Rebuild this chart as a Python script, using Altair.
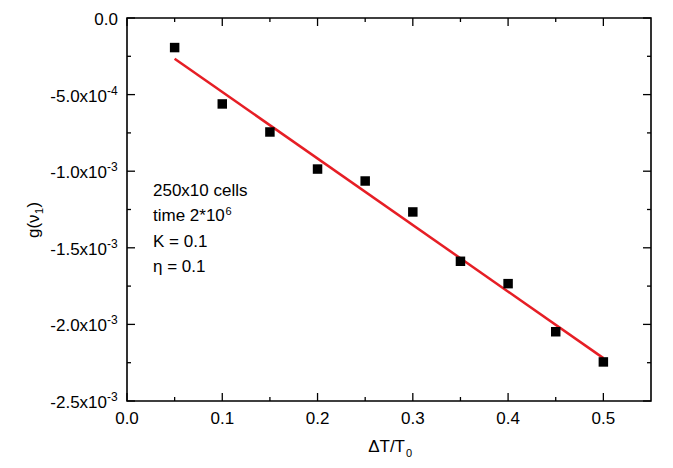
import altair as alt
import pandas as pd

# ---- data ----
dT = [0.05, 0.10, 0.15, 0.20, 0.25, 0.30, 0.35, 0.40, 0.45, 0.50]
g = [-1.93e-4, -5.61e-4, -7.44e-4, -9.86e-4, -1.064e-3, -1.266e-3,
     -1.588e-3, -1.734e-3, -2.048e-3, -2.245e-3]

x_major = [0.0, 0.1, 0.2, 0.3, 0.4, 0.5]
x_minor = [0.05, 0.15, 0.25, 0.35, 0.45]
x_labels = ["0.0", "0.1", "0.2", "0.3", "0.4", "0.5"]
y_major = [0.0, -0.0005, -0.001, -0.0015, -0.002, -0.0025]
y_minor = [-0.00025, -0.00075, -0.00125, -0.00175, -0.00225]
y_mantissa = ["0.0", "-5.0x10", "-1.0x10", "-1.5x10", "-2.0x10", "-2.5x10"]
y_exponent = ["", "-4", "-3", "-3", "-3", "-3"]

notes = ["250x10 cells", "time 2*10", "K = 0.1", "η = 0.1"]
note_sup = ["6"]
x_title = ["ΔT/T"]
x_title_sub = ["0"]
y_title = ["g(ν"]
y_title_sub = ["1"]
y_title_end = [")"]

# ---- layout / style ----
W, H = 524, 383
FONT = "Liberation Sans"
FS = 17
MAJ, MIN = 8, 4
TW = 1.3

xs = alt.Scale(domain=[0, 0.55], nice=False, zero=False)
ys = alt.Scale(domain=[-0.0025, 0], nice=False, zero=False)


def X(f):
    return alt.X(f, type="quantitative", scale=xs, axis=None)


def Y(f):
    return alt.Y(f, type="quantitative", scale=ys, axis=None)


pts = pd.DataFrame({"dT": dT, "g": g})
xmaj = pd.DataFrame({"v": x_major, "lab": x_labels})
xmin = pd.DataFrame({"v": x_minor})
ymaj = pd.DataFrame({"v": y_major, "man": y_mantissa, "exp": y_exponent})
ymin = pd.DataFrame({"v": y_minor})

layers = []

# tick marks (inward, all four sides)
for df, L in [(xmaj, MAJ), (xmin, MIN)]:
    layers.append(alt.Chart(df).mark_rule(color="black", strokeWidth=TW)
                  .encode(x=X("v"), y=alt.value(H), y2=alt.value(H - L)))
    layers.append(alt.Chart(df).mark_rule(color="black", strokeWidth=TW)
                  .encode(x=X("v"), y=alt.value(0), y2=alt.value(L)))
for df, L in [(ymaj, MAJ), (ymin, MIN)]:
    layers.append(alt.Chart(df).mark_rule(color="black", strokeWidth=TW)
                  .encode(y=Y("v"), x=alt.value(0), x2=alt.value(L)))
    layers.append(alt.Chart(df).mark_rule(color="black", strokeWidth=TW)
                  .encode(y=Y("v"), x=alt.value(W), x2=alt.value(W - L)))

# x tick labels
layers.append(alt.Chart(xmaj).mark_text(font=FONT, fontSize=FS, align="center",
                                        baseline="alphabetic", color="black")
              .encode(x=X("v"), y=alt.value(H + 23), text="lab:N"))

# y tick labels (mantissa + superscript exponent)
layers.append(alt.Chart(ymaj).transform_filter("datum.exp != ''")
              .mark_text(font=FONT, fontSize=FS, align="right", baseline="alphabetic",
                         dy=7, color="black")
              .encode(y=Y("v"), x=alt.value(-20), text="man:N"))
layers.append(alt.Chart(ymaj).transform_filter("datum.exp != ''")
              .mark_text(font=FONT, fontSize=12, align="left", baseline="alphabetic",
                         dy=0, color="black")
              .encode(y=Y("v"), x=alt.value(-20), text="exp:N"))
layers.append(alt.Chart(ymaj).transform_filter("datum.exp == ''")
              .mark_text(font=FONT, fontSize=FS, align="right", baseline="alphabetic",
                         dy=7, color="black")
              .encode(y=Y("v"), x=alt.value(-9), text="man:N"))

# fit line
layers.append(alt.Chart(pts).transform_regression("dT", "g", extent=[0.05, 0.5])
              .mark_line(color="#e61e25", strokeWidth=2.5)
              .encode(x=X("dT"), y=Y("g")))

# data points
layers.append(alt.Chart(pts).mark_point(shape="square", size=90, filled=True,
                                        color="black", opacity=1)
              .encode(x=X("dT"), y=Y("g")))

# annotation
layers.append(alt.Chart(pd.DataFrame({"t": [0]})).mark_text(
    text=notes, font=FONT, fontSize=FS, align="left", baseline="alphabetic",
    lineHeight=25.3, color="black").encode(x=alt.value(26), y=alt.value(178)))
layers.append(alt.Chart(pd.DataFrame({"t": note_sup})).mark_text(
    font=FONT, fontSize=11, align="left", baseline="alphabetic", color="black")
    .encode(text="t:N", x=alt.value(98.5), y=alt.value(196.5)))

# x title
layers.append(alt.Chart(pd.DataFrame({"t": x_title})).mark_text(
    font=FONT, fontSize=FS, align="right", baseline="alphabetic", color="black")
    .encode(text="t:N", x=alt.value(W / 2 + 16), y=alt.value(H + 51)))
layers.append(alt.Chart(pd.DataFrame({"t": x_title_sub})).mark_text(
    font=FONT, fontSize=11, align="left", baseline="alphabetic", color="black")
    .encode(text="t:N", x=alt.value(W / 2 + 17), y=alt.value(H + 55.5)))

# y title (rotated, reads bottom to top)
layers.append(alt.Chart(pd.DataFrame({"t": y_title})).mark_text(
    font=FONT, fontSize=FS, align="left", baseline="alphabetic", angle=270,
    color="black").encode(text="t:N", x=alt.value(-88), y=alt.value(220)))
layers.append(alt.Chart(pd.DataFrame({"t": y_title_sub})).mark_text(
    font=FONT, fontSize=11, align="left", baseline="alphabetic", angle=270,
    color="black").encode(text="t:N", x=alt.value(-84), y=alt.value(196)))
layers.append(alt.Chart(pd.DataFrame({"t": y_title_end})).mark_text(
    font=FONT, fontSize=FS, align="left", baseline="alphabetic", angle=270,
    color="black").encode(text="t:N", x=alt.value(-88), y=alt.value(189.5)))

chart = (alt.layer(*layers)
         .properties(width=W, height=H,
                     autosize=alt.AutoSizeParams(type="none"),
                     padding={"left": 119, "top": 10, "right": 14, "bottom": 59})
         .configure_view(stroke="black", strokeWidth=1.6))

chart.save("out.html", embed_options={"renderer": "svg", "actions": False})
